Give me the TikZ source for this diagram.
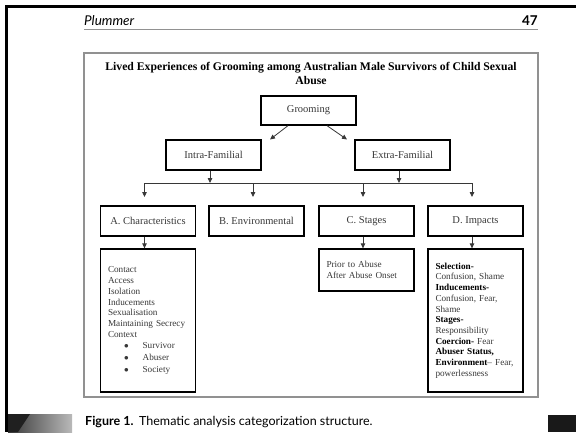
\documentclass[tikz,border=0pt]{standalone}
\usepackage{fontspec}
\setmainfont{Liberation Serif}
\newfontfamily\headfont{Lato}
\usetikzlibrary{arrows.meta}
\definecolor{txtgray}{RGB}{55,55,55}
\definecolor{linkgray}{RGB}{55,55,55}
\definecolor{framegray}{RGB}{145,145,145}
\newcommand{\kw}[1]{\textcolor{black}{\textbf{#1}}}
\newcommand{\bulitem}[1]{\hspace*{16pt}$\bullet$\hspace{14pt}#1}
\begin{document}
\begin{tikzpicture}[x=1pt,y=1pt,yscale=-1,
  box/.style={draw, line width=1.3pt, minimum width=95pt, minimum height=30pt, inner sep=0pt, text=txtgray, font=\fontsize{10.5}{12}\selectfont},
  detail/.style={draw, line width=1.3pt, inner xsep=7.5pt, inner ysep=0pt, text width=80pt, align=left, text=txtgray, font=\fontsize{9.2}{10.7}\selectfont},
  link/.style={draw=linkgray, line width=0.8pt},
  arr/.style={link, -{Triangle[length=5pt,width=4.5pt]}}]
\useasboundingbox (0,0) rectangle (576,432);

%Shape: page edges
\fill[black] (5,4.5) rectangle (576,7.5);
\fill[black] (5,4.5) rectangle (8,432);
\shade[left color=gray!45!black, right color=gray!55] (8,414) rectangle (72,432);
\fill[gray!25!black] (8,414) -- (30,414) -- (18,432) -- (8,432) -- cycle;
\fill[gray!20!black] (548,415) rectangle (576,432);

% Text Node
\node[anchor=base west, inner sep=0pt, font=\headfont\itshape\fontsize{13.5}{15}\selectfont] (author) at (84,25) {Plummer};
% Text Node
\node[anchor=base east, inner sep=0pt, font=\headfont\bfseries\fontsize{13.5}{15}\selectfont] (page) at (538,25) {47};
%Straight Lines
\draw[framegray, line width=0.8pt] (84,29.5) -- (538,29.5);

%Shape: Rectangle
\draw[framegray, line width=1.5pt] (84,53) rectangle (538,397);
% Text Node
\node[anchor=north, inner sep=0pt, align=center, font=\bfseries\fontsize{11.7}{14}\selectfont] (title) at (311,62) {Lived Experiences of Grooming among Australian Male Survivors of Child Sexual\\Abuse};

%Shape: top boxes
\node[box, minimum height=29pt] (groom) at (308.5,110.5) {Grooming};
\node[box] (intra) at (213.5,155) {Intra-Familial};
\node[box] (extra) at (402.5,155) {Extra-Familial};

%Shape: theme boxes
\node[box] (chr) at (148,221) {A. Characteristics};
\node[box] (env) at (256.5,221) {B. Environmental};
\node[box] (stg) at (366.5,221) {C. Stages};
\node[box] (imp) at (475.5,221) {D. Impacts};

%Shape: detail boxes
\node[detail, minimum height=143pt] (chrlist) at (148,320.5) {Contact\\Access\\Isolation\\Inducements\\Sexualisation\\Maintaining Secrecy\\Context\\[1pt]
\bulitem{Survivor}\\[1pt]
\bulitem{Abuser}\\[1pt]
\bulitem{Society}};
\node[detail, minimum height=42pt] (stglist) at (366.5,270) {Prior to Abuse\\After Abuse Onset};
\node[detail, minimum height=143pt] (implist) at (475.5,320.5) {\kw{Selection-}\\Confusion, Shame\\\kw{Inducements-}\\Confusion, Fear,\\Shame\\\kw{Stages-}\\Responsibility\\\kw{Coercion-} Fear\\\kw{Abuser Status,}\\\kw{Environment}–~Fear,\\powerlessness};

%Straight Lines: grooming split
\coordinate (tipL) at (270,139.5);
\coordinate (tipR) at (347,139.5);
\draw[arr] ([xshift=-20.5pt]groom.south) -- (tipL);
\draw[arr] ([xshift=18.5pt]groom.south) -- (tipR);

%Straight Lines: bus
\coordinate (busL) at (144,183);
\coordinate (busR) at (472,183);
\draw[link] (busL) -- (busR);
\coordinate (intra out) at ([xshift=-3.5pt]intra.south);
\coordinate (extra out) at ([xshift=-3.5pt]extra.south);
\draw[arr] (intra out) -- (intra out |- busL);
\draw[arr] (extra out) -- (extra out |- busL);
\foreach \n in {chr,env,stg,imp}{
  \coordinate (\n in) at ([xshift=-3.5pt]\n.north);
  \draw[arr] (\n in |- busL) -- ++(0,14);
}

%Straight Lines: to details
\draw[arr] ([xshift=-3.5pt]chr.south) -- ([xshift=-3.5pt]chrlist.north);
\draw[arr] ([xshift=-3.5pt]stg.south) -- ([xshift=-3.5pt]stglist.north);
\draw[arr] ([xshift=-3.5pt]imp.south) -- ([xshift=-3.5pt]implist.north);

% Text Node
\node[anchor=base west, inner sep=0pt, font=\headfont\fontsize{12.5}{14}\selectfont] (caption) at (85,425) {\textbf{Figure 1.}\hspace{0.45em}Thematic analysis categorization structure.};
\end{tikzpicture}
\end{document}
